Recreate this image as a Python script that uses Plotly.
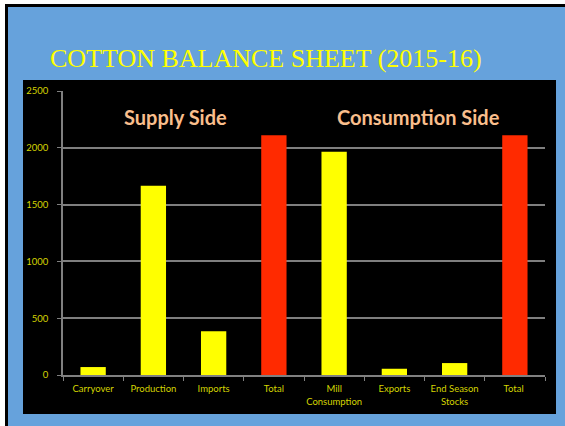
import plotly.graph_objects as go

categories = ["Carryover", "Production", "Imports", "Total", "Mill<br>Consumption",
              "Exports", "End Season<br>Stocks", "Total "]
values = [70, 1665, 385, 2110, 1965, 55, 105, 2110]
bar_colors = ["#FFFF00", "#FFFF00", "#FFFF00", "#FF2A00", "#FFFF00", "#FFFF00", "#FFFF00", "#FF2A00"]
y_ticks = [0, 500, 1000, 1500, 2000, 2500]

W, H = 565, 426
L, R, T, B = 63, 20, 91, 51
PW, PH = W - L - R, H - T - B


def px(X):
    return (X - L) / PW


def py(Y):
    return (H - B - Y) / PH


fig = go.Figure(go.Bar(x=categories, y=values, marker=dict(color=bar_colors, line=dict(width=0)),
                       hoverinfo="skip"))

shapes = [
    dict(type="rect", xref="paper", yref="paper", x0=px(5), x1=px(566), y0=py(4), y1=py(427),
         fillcolor="black", line=dict(width=0), layer="below"),
    dict(type="rect", xref="paper", yref="paper", x0=px(8), x1=px(566), y0=py(7), y1=py(427),
         fillcolor="#66A2DC", line=dict(width=0), layer="below"),
    dict(type="rect", xref="paper", yref="paper", x0=px(23), x1=px(556), y0=py(80), y1=py(414),
         fillcolor="black", line=dict(width=0), layer="below"),
]

annotations = [
    dict(text="COTTON BALANCE SHEET (2015-16)", xref="paper", yref="paper", x=px(266), y=py(58),
         xanchor="center", yanchor="middle", showarrow=False,
         font=dict(family="Liberation Serif", size=26, color="#FFFF00")),
    dict(text="<b>Supply Side</b>", xref="paper", yref="paper", x=px(175), y=py(117),
         xanchor="center", yanchor="middle", showarrow=False,
         font=dict(family="Lato", size=20, color="#F9BE8C")),
    dict(text="<b>Consumption Side</b>", xref="paper", yref="paper", x=px(418), y=py(117),
         xanchor="center", yanchor="middle", showarrow=False,
         font=dict(family="Lato", size=20, color="#F9BE8C")),
]

fig.update_layout(
    width=W, height=H,
    margin=dict(l=L, r=R, t=T, b=B, pad=0),
    paper_bgcolor="white",
    plot_bgcolor="rgba(0,0,0,0)",
    bargap=0.58,
    showlegend=False,
    shapes=shapes,
    annotations=annotations,
    xaxis=dict(
        type="category", tickson="boundaries", ticks="outside", ticklen=4, tickcolor="#808080",
        showline=True, linecolor="#808080", linewidth=1.5, showgrid=False, tickangle=0,
        ticklabelstandoff=4,
        tickfont=dict(family="Lato", size=9.5, color="#D4D400"),
    ),
    yaxis=dict(
        range=[0, 2500], tickvals=y_ticks, ticks="outside", ticklen=4, tickcolor="#808080",
        showline=True, linecolor="#808080", linewidth=1.5, ticklabelstandoff=7,
        showgrid=True, gridcolor="#7F7F7F", gridwidth=1.5, zeroline=False,
        tickfont=dict(family="Lato", size=9.5, color="#D4D400"),
    ),
)

fig.write_html("out.html", config={"displayModeBar": False},
               post_script="document.body.style.margin='0px';document.body.style.overflow='hidden';")
